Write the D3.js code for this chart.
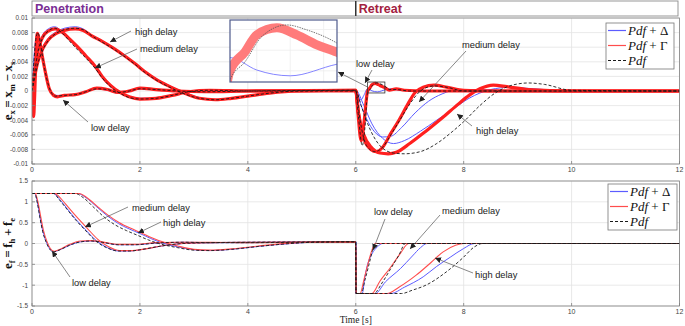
<!DOCTYPE html>
<html><head><meta charset="utf-8">
<script src="https://cdn.jsdelivr.net/npm/d3@7"></script>
<style>body{margin:0;background:#fff;} svg{display:block;}</style>
</head><body>
<svg id="c" width="685" height="326"></svg>
<script>
// ---------------- DATA ----------------
const xTicks = [0, 2, 4, 6, 8, 10, 12];
const exTicks = [-0.01, -0.008, -0.006, -0.004, -0.002, 0, 0.002, 0.004, 0.006, 0.008, 0.01];
const efTicks = [-1.5, -1, -0.5, 0, 0.5, 1, 1.5];
const phaseNames = ["Penetration", "Retreat"];
const phaseStart = [0, 6];
const legendNames = ["Pdf + \u0394", "Pdf + \u0393", "Pdf"];
const zoomWindowT = [6.22, 6.54];
const zoomWindowV = [-0.00027, 0.00123];

// e_x = x_m - x_s   [time, value]
const exLowDelta = [[0,0],[0.04,0.005],[0.08,0.0075],[0.11,0.0079],[0.15,0.0065],[0.2,0.0042],[0.27,0.0015],[0.35,-0.0002],[0.45,-0.0006],[0.6,-0.0006],[0.8,-0.0004],[1.0,-0.0001],[1.2,0.0003],[1.4,0.0001],[1.6,-0.0003],[1.8,-0.0001],[2.0,0.0003],[2.3,0.0002],[2.7,0],[3.2,-0.0001],[4,0],[6,0.0001],[6.05,-0.0008],[6.1,-0.0012],[6.15,-0.0006],[6.22,0.00032],[6.3,0.00002],[6.4,-0.00012],[6.54,0.00016],[6.65,0.0003],[6.8,0.0001],[7.2,0],[12,0]];
const exLowGamma = [[0,0],[0.015,-0.002],[0.03,-0.0035],[0.05,-0.0005],[0.08,0.0065],[0.1,0.0079],[0.13,0.0072],[0.18,0.0052],[0.25,0.0025],[0.32,0.0003],[0.4,-0.0006],[0.47,-0.0008],[0.6,-0.0006],[0.8,-0.0005],[1.0,-0.0001],[1.2,0.0004],[1.4,0.0002],[1.6,-0.0002],[1.8,0],[2.0,0.0004],[2.3,0.0002],[2.7,0],[3.2,-0.0001],[4,0],[6,0.0001],[6.04,-0.003],[6.1,-0.0068],[6.15,-0.0045],[6.22,0],[6.265,0.00046],[6.3,0.00087],[6.36,0.00104],[6.42,0.00087],[6.48,0.00063],[6.54,0.00045],[6.62,0.0001],[6.75,0.0003],[6.9,0.0001],[7.3,0],[12,0]];
const exLowPdf = [[0,0],[0.04,0.0045],[0.08,0.0075],[0.11,0.008],[0.15,0.0068],[0.2,0.0045],[0.27,0.0018],[0.35,-0.0001],[0.43,-0.0007],[0.6,-0.0006],[0.8,-0.0005],[1.0,-0.0001],[1.2,0.0003],[1.4,0.0002],[1.6,-0.0002],[1.8,0],[2.0,0.0003],[2.3,0.0002],[2.7,0],[3.2,-0.0001],[4,0],[6,0.0001],[6.05,-0.0035],[6.12,-0.0075],[6.17,-0.005],[6.22,-0.00022],[6.265,0.00022],[6.315,0.00083],[6.39,0.00111],[6.45,0.00099],[6.54,0.00067],[6.62,0.0002],[6.75,0.0002],[7,0],[12,0]];
const exMedDelta = [[0,0],[0.05,0.003],[0.1,0.0055],[0.2,0.0077],[0.3,0.0085],[0.42,0.0088],[0.55,0.0082],[0.7,0.0072],[0.85,0.0061],[1.0,0.0049],[1.17,0.0035],[1.3,0.0021],[1.45,0.0008],[1.63,-0.0002],[1.8,-0.0007],[2.0,-0.001],[2.3,-0.001],[2.6,-0.0006],[2.9,-0.0001],[3.3,0.0001],[4,0],[6,0],[6.1,-0.002],[6.2,-0.0038],[6.35,-0.0056],[6.5,-0.0063],[6.65,-0.0062],[6.85,-0.005],[7.1,-0.003],[7.35,-0.0014],[7.6,-0.0004],[7.9,0.0002],[8.3,0.0002],[9,0],[12,0]];
const exMedGamma = [[0,0],[0.05,0.0028],[0.1,0.0052],[0.2,0.0074],[0.3,0.0082],[0.43,0.0085],[0.55,0.0081],[0.7,0.0071],[0.85,0.006],[1.0,0.0048],[1.17,0.0034],[1.3,0.002],[1.45,0.0008],[1.63,-0.0002],[1.8,-0.0008],[2.0,-0.0011],[2.3,-0.001],[2.6,-0.0006],[2.9,-0.0001],[3.3,0.0001],[4,0],[6,0],[6.05,-0.003],[6.15,-0.0065],[6.28,-0.008],[6.38,-0.0083],[6.5,-0.0077],[6.65,-0.0058],[6.8,-0.004],[6.95,-0.002],[7.1,-0.0002],[7.25,0.0005],[7.45,0.0008],[7.7,0.0005],[8.0,0.0001],[8.5,0],[12,0]];
const exMedPdf = [[0,0],[0.05,0.0025],[0.1,0.005],[0.2,0.0073],[0.3,0.0082],[0.42,0.0086],[0.55,0.008],[0.7,0.0068],[0.85,0.0056],[1.0,0.0045],[1.17,0.0031],[1.3,0.0018],[1.45,0.0006],[1.63,-0.0003],[1.8,-0.0009],[2.0,-0.0011],[2.3,-0.001],[2.6,-0.0006],[2.9,-0.0001],[3.3,0.0001],[4,0],[6,0],[6.08,-0.004],[6.2,-0.0075],[6.35,-0.0083],[6.5,-0.0077],[6.65,-0.006],[6.8,-0.0042],[7.0,-0.0018],[7.2,0],[7.45,0.0007],[7.7,0.0005],[8.0,0],[12,0]];
const exHighDelta = [[0,0],[0.05,0.0022],[0.1,0.004],[0.2,0.006],[0.3,0.0072],[0.45,0.0081],[0.6,0.0086],[0.8,0.0088],[0.95,0.0085],[1.1,0.0077],[1.3,0.0069],[1.5,0.006],[1.7,0.005],[1.9,0.0039],[2.1,0.0027],[2.3,0.0017],[2.5,0.0009],[2.7,0.0002],[2.9,-0.0004],[3.1,-0.0009],[3.4,-0.0012],[3.7,-0.001],[4.0,-0.0007],[4.4,-0.0003],[4.9,0],[6,0.0001],[6.15,-0.002],[6.3,-0.0045],[6.5,-0.0065],[6.7,-0.0072],[6.9,-0.0068],[7.2,-0.0055],[7.5,-0.004],[7.8,-0.0025],[8.1,-0.001],[8.5,0.0002],[8.85,0.0005],[9.3,0.0003],[10,0],[12,0]];
const exHighGamma = [[0,0],[0.05,0.002],[0.1,0.0038],[0.2,0.0058],[0.3,0.007],[0.45,0.0079],[0.6,0.0083],[0.8,0.0085],[0.95,0.0083],[1.1,0.0076],[1.3,0.0068],[1.5,0.0059],[1.7,0.0049],[1.9,0.0038],[2.1,0.0026],[2.3,0.0016],[2.5,0.0008],[2.7,0.0001],[2.9,-0.0005],[3.1,-0.001],[3.4,-0.0012],[3.7,-0.001],[4.0,-0.0007],[4.4,-0.0003],[4.9,0],[6,0.0001],[6.05,-0.003],[6.15,-0.006],[6.3,-0.0078],[6.45,-0.0085],[6.6,-0.0086],[6.75,-0.0084],[7.0,-0.0072],[7.3,-0.0055],[7.6,-0.0037],[7.9,-0.0018],[8.1,-0.0006],[8.3,0.0003],[8.55,0.0008],[8.8,0.0006],[9.2,0.0002],[10,0],[12,0]];
const exHighPdf = [[0,0],[0.05,0.0018],[0.1,0.0035],[0.2,0.0056],[0.3,0.0069],[0.45,0.0079],[0.6,0.0084],[0.8,0.0086],[0.95,0.0084],[1.1,0.0076],[1.3,0.0067],[1.5,0.0058],[1.7,0.0048],[1.9,0.0037],[2.1,0.0025],[2.3,0.0015],[2.5,0.0007],[2.7,0],[2.9,-0.0006],[3.1,-0.001],[3.4,-0.0012],[3.7,-0.001],[4.0,-0.0007],[4.4,-0.0003],[4.9,0],[6,0.0001],[6.1,-0.002],[6.25,-0.005],[6.45,-0.0075],[6.7,-0.0085],[6.9,-0.0086],[7.2,-0.0083],[7.5,-0.0072],[7.8,-0.0055],[8.0,-0.0042],[8.3,-0.002],[8.6,-0.0002],[8.9,0.0008],[9.2,0.0011],[9.5,0.0009],[10,0.0001],[12,0]];

// e_f = f_h + f_e   [time, value]
const efLowDelta = [[0,1.2],[0.05,1.2],[0.1,0.98],[0.15,0.62],[0.2,0.3],[0.27,0.02],[0.33,-0.13],[0.4,-0.2],[0.5,-0.16],[0.7,-0.04],[0.9,0.04],[1.1,0.06],[1.3,0.03],[1.6,-0.03],[1.9,-0.03],[2.3,0.01],[2.8,0.03],[3.3,0.02],[4,0.02],[6,0.04],[6.005,-1.2],[6.12,-1.2],[6.17,-0.8],[6.22,-0.5],[6.3,-0.25],[6.4,-0.08],[6.5,0],[12,0]];
const efLowGamma = [[0,1.2],[0.06,1.2],[0.11,1.0],[0.16,0.66],[0.21,0.33],[0.28,0.04],[0.34,-0.12],[0.41,-0.19],[0.5,-0.15],[0.7,-0.02],[0.9,0.06],[1.1,0.07],[1.3,0.04],[1.6,-0.02],[1.9,-0.02],[2.3,0.02],[2.8,0.03],[3.3,0.03],[4,0.02],[6,0.04],[6.005,-1.2],[6.08,-1.2],[6.15,-0.88],[6.22,-0.52],[6.3,-0.16],[6.36,0],[12,0]];
const efLowPdf = [[0,1.2],[0.05,1.2],[0.1,0.97],[0.15,0.6],[0.2,0.28],[0.27,0.01],[0.33,-0.14],[0.4,-0.2],[0.5,-0.16],[0.7,-0.04],[0.9,0.04],[1.1,0.06],[1.3,0.03],[1.6,-0.03],[1.9,-0.03],[2.3,0.01],[2.8,0.03],[3.3,0.02],[4,0.02],[6,0.04],[6.005,-1.2],[6.1,-1.2],[6.17,-0.88],[6.25,-0.48],[6.32,-0.13],[6.38,0],[12,0]];
const efMedDelta = [[0,1.2],[0.4,1.2],[0.5,1.08],[0.6,0.92],[0.8,0.6],[1.0,0.32],[1.2,0.06],[1.4,-0.1],[1.6,-0.18],[1.8,-0.18],[2.1,-0.13],[2.4,-0.06],[2.8,0],[3.3,0.02],[4,0.03],[6,0.04],[6.005,-1.2],[6.36,-1.2],[6.55,-0.92],[6.83,-0.6],[7.05,-0.3],[7.2,-0.1],[7.32,0],[12,0]];
const efMedGamma = [[0,1.2],[0.42,1.2],[0.52,1.1],[0.62,0.95],[0.82,0.65],[1.02,0.37],[1.22,0.1],[1.42,-0.08],[1.62,-0.17],[1.82,-0.17],[2.1,-0.13],[2.4,-0.06],[2.8,0],[3.3,0.02],[4,0.03],[6,0.04],[6.005,-1.2],[6.3,-1.2],[6.45,-0.9],[6.63,-0.6],[6.82,-0.25],[6.98,0],[12,0]];
const efMedPdf = [[0,1.2],[0.4,1.2],[0.5,1.06],[0.6,0.9],[0.8,0.58],[1.0,0.3],[1.2,0.04],[1.4,-0.11],[1.6,-0.18],[1.8,-0.18],[2.1,-0.13],[2.4,-0.06],[2.8,0],[3.3,0.02],[4,0.03],[6,0.04],[6.005,-1.2],[6.33,-1.2],[6.5,-0.92],[6.65,-0.6],[6.8,-0.28],[6.92,0],[12,0]];
const efHighDelta = [[0,1.2],[0.85,1.2],[1.0,1.1],[1.2,0.88],[1.4,0.66],[1.6,0.48],[1.8,0.35],[2.0,0.24],[2.2,0.12],[2.4,0.02],[2.7,-0.08],[3.0,-0.15],[3.3,-0.17],[3.7,-0.14],[4.2,-0.07],[4.8,0],[5.2,0.03],[6,0.04],[6.005,-1.2],[6.65,-1.2],[6.9,-1.05],[7.25,-0.8],[7.5,-0.55],[7.75,-0.33],[8.0,-0.12],[8.2,0],[12,0]];
const efHighGamma = [[0,1.2],[0.87,1.2],[1.02,1.1],[1.22,0.88],[1.42,0.67],[1.62,0.5],[1.82,0.37],[2.02,0.26],[2.22,0.14],[2.42,0.04],[2.7,-0.06],[3.0,-0.14],[3.3,-0.16],[3.7,-0.13],[4.2,-0.06],[4.8,0.01],[5.2,0.03],[6,0.04],[6.005,-1.2],[6.58,-1.2],[6.8,-1.05],[7.12,-0.76],[7.4,-0.45],[7.62,-0.2],[7.85,-0.04],[8.0,0],[12,0]];
const efHighPdf = [[0,1.2],[0.8,1.2],[0.95,1.1],[1.15,0.86],[1.35,0.62],[1.55,0.44],[1.75,0.31],[1.95,0.2],[2.15,0.09],[2.35,0],[2.7,-0.1],[3.0,-0.16],[3.3,-0.17],[3.7,-0.14],[4.2,-0.07],[4.8,0],[5.2,0.03],[6,0.04],[6.005,-1.2],[6.85,-1.2],[7.05,-1.12],[7.3,-1.0],[7.68,-0.68],[7.98,-0.35],[8.2,-0.08],[8.35,0],[12,0]];

// ---------------- DRAW ----------------
const svg = d3.select("#c");
const L = 32, R = 679.5;
const x = d3.scaleLinear().domain([0, 12]).range([L, R]);
const yT = d3.scaleLinear().domain([-0.01, 0.01]).range([164, 18]);
const yB = d3.scaleLinear().domain([-1.5, 1.5]).range([306, 181]);

const BLUE = "#5c5cff", RED = "#ff1f1f", REDB = "#ff4d4d", DASH = "#1a1a1a";
const sans = "'Liberation Sans', Arial, sans-serif";
const serif = "'Liberation Serif', 'Times New Roman', serif";

const defs = svg.append("defs");

function panel(yS, yTicks, fmt, sets, top) {
  const g = svg.append("g");
  const [y0, y1] = yS.range();
  g.selectAll(".gx").data(xTicks).join("line")
    .attr("x1", d => x(d)).attr("x2", d => x(d)).attr("y1", y1).attr("y2", y0)
    .attr("stroke", "#e3e3e3").attr("stroke-width", 0.8);
  g.selectAll(".gy").data(yTicks).join("line")
    .attr("x1", L).attr("x2", R).attr("y1", d => yS(d)).attr("y2", d => yS(d))
    .attr("stroke", "#e3e3e3").attr("stroke-width", 0.8);
  const id = "clip" + (top ? "T" : "B");
  defs.append("clipPath").attr("id", id).append("rect")
    .attr("x", L).attr("y", y1).attr("width", R - L).attr("height", y0 - y1);
  const lg = g.append("g").attr("clip-path", `url(#${id})`);
  const line = d3.line().x(d => x(d[0])).y(d => yS(d[1])).curve(d3.curveMonotoneX);
  sets.blue.forEach(s => lg.append("path").attr("d", line(s)).attr("fill", "none")
    .attr("stroke", BLUE).attr("stroke-width", 1));
  sets.red.forEach(s => lg.append("path").attr("d", line(s)).attr("fill", "none")
    .attr("stroke", top ? RED : REDB).attr("stroke-width", top ? 3.2 : 1.1)
    .attr("stroke-linejoin", "round"));
  sets.dash.forEach(s => lg.append("path").attr("d", line(s)).attr("fill", "none")
    .attr("stroke", DASH).attr("stroke-width", 0.9).attr("stroke-dasharray", "3,2"));
  g.append("rect").attr("x", L).attr("y", y1).attr("width", R - L).attr("height", y0 - y1)
    .attr("fill", "none").attr("stroke", "#808080").attr("stroke-width", 0.8);
  g.selectAll(".tx").data(xTicks).join("line")
    .attr("x1", d => x(d)).attr("x2", d => x(d)).attr("y1", y0).attr("y2", y0 - 3)
    .attr("stroke", "#808080").attr("stroke-width", 0.8);
  g.selectAll(".ty").data(yTicks).join("line")
    .attr("x1", L).attr("x2", L + 3).attr("y1", d => yS(d)).attr("y2", d => yS(d))
    .attr("stroke", "#808080").attr("stroke-width", 0.8);
  g.selectAll(".lx").data(xTicks).join("text")
    .attr("x", d => x(d)).attr("y", y0 + 8).attr("text-anchor", "middle")
    .attr("font-family", sans).attr("font-size", 7).attr("fill", "#444").text(d => d);
  g.selectAll(".ly").data(yTicks).join("text")
    .attr("x", L - 4).attr("y", d => yS(d) + 2.4).attr("text-anchor", "end")
    .attr("font-family", sans).attr("font-size", 6.4).attr("fill", "#444").text(fmt);
  return g;
}

const fmtT = d => d === 0 ? "0" : String(+d.toFixed(3));
const fmtB = d => String(d);

panel(yT, exTicks, fmtT, {
  blue: [exLowDelta, exMedDelta, exHighDelta],
  red: [exLowGamma, exMedGamma, exHighGamma],
  dash: [exLowPdf, exMedPdf, exHighPdf]
}, true);
panel(yB, efTicks, fmtB, {
  blue: [efLowDelta, efMedDelta, efHighDelta],
  red: [efLowGamma, efMedGamma, efHighGamma],
  dash: [efLowPdf, efMedPdf, efHighPdf]
}, false);

// phase header
svg.append("rect").attr("x", L).attr("y", 1).attr("width", 678 - L).attr("height", 15)
  .attr("fill", "#fff").attr("stroke", "#8c8c8c").attr("stroke-width", 0.9);
svg.append("line").attr("x1", x(phaseStart[1])).attr("x2", x(phaseStart[1])).attr("y1", 1).attr("y2", 16)
  .attr("stroke", "#333").attr("stroke-width", 1.5);
const phaseColors = ["#7a2e94", "#a3213f"];
phaseNames.forEach((n, i) => svg.append("text").attr("x", x(phaseStart[i]) + 3).attr("y", 13)
  .attr("font-family", sans).attr("font-weight", "bold").attr("font-size", 12.5)
  .attr("fill", phaseColors[i]).text(n));

// y labels (bold math, with subscripts)
function mathLabel(cx, cy, parts) {
  const t = svg.append("text").attr("transform", `translate(${cx},${cy}) rotate(-90)`)
    .attr("text-anchor", "middle").attr("font-family", serif).attr("font-weight", "bold")
    .attr("font-size", 13).attr("fill", "#111");
  parts.forEach(([s, sub], i) => {
    t.append("tspan").attr("dy", i > 0 ? -2.5 : 0).text(s);
    t.append("tspan").attr("font-size", 8.5).attr("dy", 2.5).text(sub);
  });
}
mathLabel(12, yT(0), [["e", "x"], ["\u2009=\u2009x", "m"], ["\u2009\u2212\u2009x", "s"]]);
mathLabel(12, yB(0), [["e", "f"], ["\u2009=\u2009f", "h"], ["\u2009+\u2009f", "e"]]);
svg.append("text").attr("x", x(6)).attr("y", 323).attr("text-anchor", "middle")
  .attr("font-family", serif).attr("font-size", 9.5).attr("fill", "#222").text("Time [s]");

// legends
function legend(x0, y0, w, h) {
  const g = svg.append("g");
  g.append("rect").attr("x", x0).attr("y", y0).attr("width", w).attr("height", h)
    .attr("fill", "#fff").attr("stroke", "#777").attr("stroke-width", 0.8);
  const cols = [BLUE, REDB, DASH];
  legendNames.forEach((n, i) => {
    const yy = y0 + 7.5 + i * 15;
    const ln = g.append("line").attr("x1", x0 + 2).attr("x2", x0 + 20).attr("y1", yy).attr("y2", yy)
      .attr("stroke", cols[i]).attr("stroke-width", 1.2);
    if (i === 2) ln.attr("stroke-dasharray", "3,2");
    const t = g.append("text").attr("x", x0 + 22).attr("y", yy + 4.5)
      .attr("font-family", serif).attr("font-size", 13).attr("fill", "#111");
    t.append("tspan").attr("font-style", "italic").text("Pdf");
    if (n.length > 3) t.append("tspan").text(n.slice(3));
  });
}
legend(606, 23, 68, 46);
legend(608, 184, 69, 46);

// annotations
const ann = [
  ["high delay", 135, 35, 131, 31, 110, 42],
  ["medium delay", 140, 52, 137, 49, 95, 68],
  ["low delay", 91, 131, 88, 122, 63, 100],
  ["low delay", 356, 67, 372, 70, 365, 83],
  ["medium delay", 462, 48, 466, 51, 419, 102],
  ["high delay", 476, 134, 472, 126, 457, 114],
  ["medium delay", 132, 211, 128, 207, 85, 227],
  ["high delay", 163, 226, 161, 222, 138, 233],
  ["low delay", 72, 286, 70, 277, 52, 251],
  ["low delay", 374, 215, 385, 219, 373, 250],
  ["medium delay", 442, 214, 440, 215, 410, 249],
  ["high delay", 475, 278, 473, 273, 435, 258]
];
defs.append("marker").attr("id", "ah").attr("viewBox", "0 0 10 10")
  .attr("refX", 10).attr("refY", 5).attr("markerWidth", 6).attr("markerHeight", 6)
  .attr("markerUnits", "userSpaceOnUse").attr("orient", "auto")
  .append("path").attr("d", "M0,0 L10,5 L0,10 z").attr("fill", "#222");
ann.forEach(a => {
  svg.append("line").attr("x1", a[3]).attr("y1", a[4]).attr("x2", a[5]).attr("y2", a[6])
    .attr("stroke", "#555").attr("stroke-width", 0.7).attr("marker-end", "url(#ah)");
  svg.append("text").attr("x", a[1]).attr("y", a[2]).attr("font-family", sans)
    .attr("font-size", 9.3).attr("fill", "#222").text(a[0]);
});

// zoom box on main chart
const bx0 = x(zoomWindowT[0]), bx1 = x(zoomWindowT[1]);
const by0 = yT(zoomWindowV[1]), by1 = yT(zoomWindowV[0]);
svg.append("rect").attr("x", bx0).attr("y", by0).attr("width", bx1 - bx0).attr("height", by1 - by0)
  .attr("fill", "none").attr("stroke", "#333").attr("stroke-width", 0.8);
svg.append("line").attr("x1", bx0).attr("y1", by0 + 5).attr("x2", 338).attr("y2", 72)
  .attr("stroke", "#555").attr("stroke-width", 0.7).attr("marker-end", "url(#ah)");

// inset
const ix = d3.scaleLinear().domain(zoomWindowT).range([230, 337]);
const iy = d3.scaleLinear().domain(zoomWindowV).range([82, 20]);
const ig = svg.append("g");
ig.append("rect").attr("x", 230).attr("y", 20).attr("width", 107).attr("height", 62).attr("fill", "#fff");
defs.append("clipPath").attr("id", "clipI").append("rect").attr("x", 230).attr("y", 20).attr("width", 107).attr("height", 62);
const il = ig.append("g").attr("clip-path", "url(#clipI)");
il.selectAll(".igx").data(ix.ticks(3)).join("line").attr("x1", d => ix(d)).attr("x2", d => ix(d))
  .attr("y1", 20).attr("y2", 82).attr("stroke", "#eee").attr("stroke-width", 0.8);
il.selectAll(".igy").data(iy.ticks(3)).join("line").attr("y1", d => iy(d)).attr("y2", d => iy(d))
  .attr("x1", 230).attr("x2", 337).attr("stroke", "#eee").attr("stroke-width", 0.8);
const iline = d3.line().x(d => ix(d[0])).y(d => iy(d[1])).curve(d3.curveMonotoneX);
il.append("path").attr("d", iline(exLowDelta)).attr("fill", "none").attr("stroke", "#7777ff").attr("stroke-width", 0.9);
il.append("path").attr("d", iline(exLowGamma)).attr("fill", "none").attr("stroke", "#ff7b7b").attr("stroke-width", 9);
il.append("path").attr("d", iline(exLowPdf)).attr("fill", "none").attr("stroke", "#555").attr("stroke-width", 0.8).attr("stroke-dasharray", "1.5,1");
ig.append("rect").attr("x", 230).attr("y", 20).attr("width", 107).attr("height", 62)
  .attr("fill", "none").attr("stroke", "#4f5a8c").attr("stroke-width", 1.2);
</script>
</body></html>
